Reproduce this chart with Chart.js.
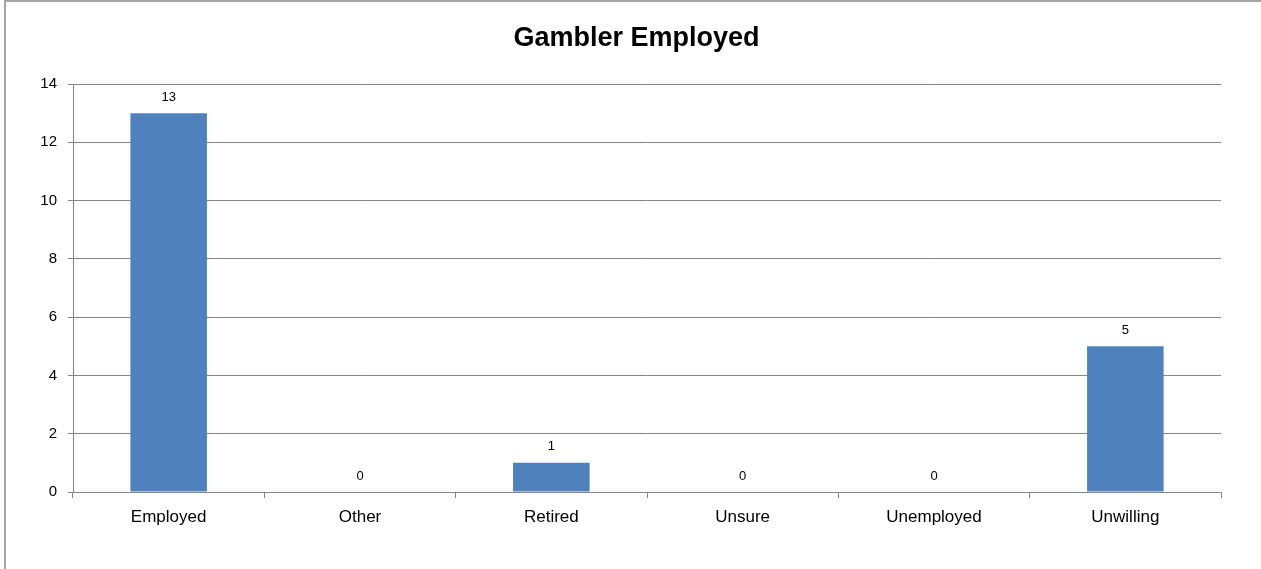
<!DOCTYPE html>
<html>
<head>
<meta charset="utf-8">
<script src="https://cdn.jsdelivr.net/npm/chart.js@4/dist/chart.umd.min.js"></script>
<style>
  html, body { margin: 0; padding: 0; background: #fff; overflow: hidden; }
  #wrap { position: relative; width: 1261px; height: 569px; }
  #frame { position: absolute; left: 4px; top: 0px; width: 1300px; height: 620px; border: 2px solid #a6a6a6; box-sizing: border-box; pointer-events: none; }
  canvas { position: absolute; left: 0; top: 0; }
</style>
</head>
<body>
<div id="wrap">
  <canvas id="c" width="1261" height="569"></canvas>
  <div id="frame"></div>
</div>
<script>
const chartTitle = "Gambler Employed";
const categories = ["Employed", "Other", "Retired", "Unsure", "Unemployed", "Unwilling"];
const counts = [13, 0, 1, 0, 0, 5];
const yTicks = [0, 2, 4, 6, 8, 10, 12, 14];

const FONT = "'Liberation Sans', 'DejaVu Sans', sans-serif";

const dataLabels = {
  id: 'dataLabels',
  afterDatasetsDraw(chart) {
    const ctx = chart.ctx;
    const meta = chart.getDatasetMeta(0);
    ctx.save();
    ctx.font = "13px " + FONT;
    ctx.fillStyle = "#000";
    ctx.textAlign = "center";
    ctx.textBaseline = "middle";
    meta.data.forEach((bar, i) => {
      ctx.fillText(String(counts[i]), bar.x, bar.y - 16);
    });
    ctx.restore();
  }
};

new Chart(document.getElementById('c'), {
  type: 'bar',
  data: {
    labels: categories,
    datasets: [{
      data: counts,
      backgroundColor: '#4F81BD',
      borderWidth: 0,
      categoryPercentage: 1.0,
      barPercentage: 0.4
    }]
  },
  options: {
    responsive: false,
    animation: false,
    devicePixelRatio: 1,
    layout: { padding: { left: 12, right: 0, top: 0, bottom: 0 } },
    plugins: {
      legend: { display: false },
      tooltip: { enabled: false },
      title: {
        display: true,
        text: chartTitle,
        color: '#000',
        font: { family: FONT, size: 27, weight: 'bold', lineHeight: 1.2 },
        padding: { top: 22, bottom: 29.6 }
      }
    },
    scales: {
      x: {
        offset: true,
        grid: { offset: true, drawOnChartArea: false, drawTicks: true, tickLength: 6, color: '#868686' },
        border: { color: '#868686', width: 1 },
        ticks: { color: '#000', font: { family: FONT, size: 17 }, padding: 9 },
        afterFit(scale) { scale.height = 77; }
      },
      y: {
        min: 0, max: 14,
        afterBuildTicks(scale) { scale.ticks = yTicks.map(v => ({ value: v })); },
        grid: { color: '#868686', drawTicks: true, tickLength: 5 },
        border: { color: '#868686', width: 1 },
        ticks: { color: '#000', font: { family: FONT, size: 15 }, padding: 11 },
        afterFit(scale) { scale.width = 61; }
      },
      yRightGap: {
        position: 'right',
        display: true,
        min: 0, max: 14,
        grid: { display: false, drawOnChartArea: false },
        border: { display: false },
        ticks: { display: false },
        afterFit(scale) { scale.width = 40; }
      }
    }
  },
  plugins: [dataLabels]
});
</script>
</body>
</html>
